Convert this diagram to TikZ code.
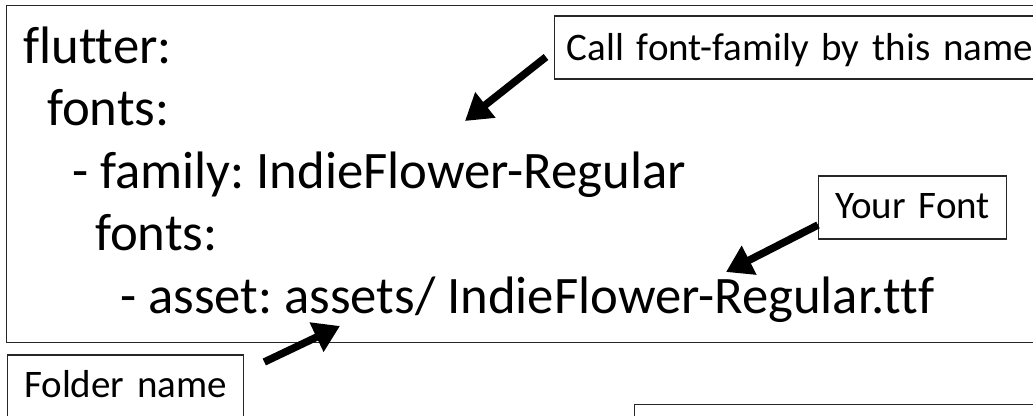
\documentclass[tikz,border=0pt]{standalone}
\usepackage{fontspec}
\setmainfont{Carlito}[Ligatures={NoCommon,TeX}]
\usetikzlibrary{arrows.meta}
\begin{document}
\frenchspacing
\begin{tikzpicture}[x=1pt,y=-1pt,
  boxline/.style={draw=black!85, line width=1.3pt},
  code/.style={anchor=base west, inner sep=0pt, font=\fontsize{52.7}{60}\selectfont\frenchspacing},
  lbl/.style={boxline, anchor=base west, inner ysep=0pt, font=\fontsize{39}{46}\selectfont\frenchspacing},
  bigarrow/.style={line width=7.5pt, -{Triangle[length=26pt,width=31pt]}}]
\useasboundingbox (0,0) rectangle (1033,415);
\clip (0,0) rectangle (1033,415);
% main code box
\node[boxline, anchor=north west, inner sep=0pt, minimum width=1040pt, minimum height=337pt] (yaml) at (6,5) {};
% code lines
\node[code] (l1) at (23,63) {flutter:};
\node[code] (l2) at (47,125.5) {fonts:};
\node[code] (l3) at (72,188) {- family: IndieFlower-Regular};
\node[code] (l4) at (95,250.5) {fonts:};
\node[code] (l5) at (120,313) {- asset: assets/ IndieFlower-Regular.ttf};
% label boxes
\node[lbl, inner xsep=12pt, text width=467pt, align=left, text height=44pt, text depth=19pt] (call) at (554,60) {Call font-family by this name};
\node[lbl, inner xsep=0pt, text width=188pt, align=center, text height=42pt, text depth=21pt] (your) at (818,218) {Your Font};
\node[lbl, inner xsep=0pt, text width=236pt, align=center, text height=42pt, text depth=21pt] (folder) at (7,397) {Folder name};
\node[boxline, anchor=north west, inner sep=0pt, minimum width=420pt, minimum height=63pt] (extra) at (634,404) {};
% arrow targets
\coordinate (t1) at (465,121);
\coordinate (t2) at (726,272);
\coordinate (t3) at (340,326);
\draw[bigarrow] ([shift={(-8,9.5)}]call.west) -- (t1);
\draw[bigarrow] ([shift={(0,17.5)}]your.west) -- (t2);
\draw[bigarrow] ([shift={(20,-24.5)}]folder.east) -- (t3);
\end{tikzpicture}
\end{document}
